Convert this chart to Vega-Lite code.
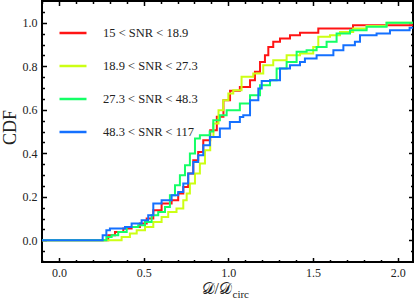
{
"$schema": "https://vega.github.io/schema/vega-lite/v6.json",
"width": 371, "height": 261, "autosize": "none",
"padding": {"left": 42, "top": 1, "right": 2, "bottom": 42},
"background": "white",
"config": {
 "view": {"stroke": "black", "strokeWidth": 2},
 "axis": {"domain": false, "grid": false, "tickColor": "black", "tickWidth": 1.5, "labelFont": "Liberation Serif, serif", "labelFontSize": 12, "labelColor": "#222", "titleFont": "Liberation Serif, serif", "titleFontWeight": "normal", "titleColor": "#222"},
 "legend": {"labelFont": "Liberation Serif, serif", "labelFontSize": 12.5, "labelColor": "#222"}
},
"data": {"values": [
{"s":"15 < SNR < 18.9","x":-0.1,"y":0},{"s":"15 < SNR < 18.9","x":0.291,"y":0.023},{"s":"15 < SNR < 18.9","x":0.331,"y":0.038},{"s":"15 < SNR < 18.9","x":0.38,"y":0.054},{"s":"15 < SNR < 18.9","x":0.429,"y":0.061},{"s":"15 < SNR < 18.9","x":0.478,"y":0.077},{"s":"15 < SNR < 18.9","x":0.518,"y":0.1},{"s":"15 < SNR < 18.9","x":0.557,"y":0.138},{"s":"15 < SNR < 18.9","x":0.606,"y":0.169},{"s":"15 < SNR < 18.9","x":0.665,"y":0.184},{"s":"15 < SNR < 18.9","x":0.704,"y":0.215},{"s":"15 < SNR < 18.9","x":0.734,"y":0.245},{"s":"15 < SNR < 18.9","x":0.763,"y":0.307},{"s":"15 < SNR < 18.9","x":0.793,"y":0.368},{"s":"15 < SNR < 18.9","x":0.822,"y":0.406},{"s":"15 < SNR < 18.9","x":0.852,"y":0.46},{"s":"15 < SNR < 18.9","x":0.893,"y":0.506},{"s":"15 < SNR < 18.9","x":0.932,"y":0.568},{"s":"15 < SNR < 18.9","x":0.971,"y":0.644},{"s":"15 < SNR < 18.9","x":1.01,"y":0.687},{"s":"15 < SNR < 18.9","x":1.068,"y":0.705},{"s":"15 < SNR < 18.9","x":1.128,"y":0.736},{"s":"15 < SNR < 18.9","x":1.157,"y":0.775},{"s":"15 < SNR < 18.9","x":1.187,"y":0.82},{"s":"15 < SNR < 18.9","x":1.216,"y":0.851},{"s":"15 < SNR < 18.9","x":1.236,"y":0.889},{"s":"15 < SNR < 18.9","x":1.265,"y":0.913},{"s":"15 < SNR < 18.9","x":1.305,"y":0.928},{"s":"15 < SNR < 18.9","x":1.364,"y":0.943},{"s":"15 < SNR < 18.9","x":1.423,"y":0.954},{"s":"15 < SNR < 18.9","x":1.531,"y":0.974},{"s":"15 < SNR < 18.9","x":1.736,"y":0.989},{"s":"15 < SNR < 18.9","x":2.09,"y":0.989},
{"s":"18.9 < SNR < 27.3","x":-0.1,"y":0},{"s":"18.9 < SNR < 27.3","x":0.37,"y":0.015},{"s":"18.9 < SNR < 27.3","x":0.419,"y":0.031},{"s":"18.9 < SNR < 27.3","x":0.459,"y":0.046},{"s":"18.9 < SNR < 27.3","x":0.508,"y":0.061},{"s":"18.9 < SNR < 27.3","x":0.557,"y":0.084},{"s":"18.9 < SNR < 27.3","x":0.606,"y":0.107},{"s":"18.9 < SNR < 27.3","x":0.645,"y":0.13},{"s":"18.9 < SNR < 27.3","x":0.694,"y":0.146},{"s":"18.9 < SNR < 27.3","x":0.734,"y":0.184},{"s":"18.9 < SNR < 27.3","x":0.754,"y":0.215},{"s":"18.9 < SNR < 27.3","x":0.773,"y":0.261},{"s":"18.9 < SNR < 27.3","x":0.803,"y":0.307},{"s":"18.9 < SNR < 27.3","x":0.832,"y":0.353},{"s":"18.9 < SNR < 27.3","x":0.862,"y":0.414},{"s":"18.9 < SNR < 27.3","x":0.893,"y":0.475},{"s":"18.9 < SNR < 27.3","x":0.912,"y":0.537},{"s":"18.9 < SNR < 27.3","x":0.942,"y":0.598},{"s":"18.9 < SNR < 27.3","x":0.97,"y":0.644},{"s":"18.9 < SNR < 27.3","x":1.0,"y":0.675},{"s":"18.9 < SNR < 27.3","x":1.029,"y":0.69},{"s":"18.9 < SNR < 27.3","x":1.078,"y":0.752},{"s":"18.9 < SNR < 27.3","x":1.147,"y":0.767},{"s":"18.9 < SNR < 27.3","x":1.206,"y":0.805},{"s":"18.9 < SNR < 27.3","x":1.265,"y":0.828},{"s":"18.9 < SNR < 27.3","x":1.344,"y":0.851},{"s":"18.9 < SNR < 27.3","x":1.423,"y":0.859},{"s":"18.9 < SNR < 27.3","x":1.501,"y":0.889},{"s":"18.9 < SNR < 27.3","x":1.531,"y":0.936},{"s":"18.9 < SNR < 27.3","x":1.6,"y":0.943},{"s":"18.9 < SNR < 27.3","x":1.659,"y":0.958},{"s":"18.9 < SNR < 27.3","x":1.737,"y":0.974},{"s":"18.9 < SNR < 27.3","x":1.816,"y":0.985},{"s":"18.9 < SNR < 27.3","x":1.934,"y":1.0},{"s":"18.9 < SNR < 27.3","x":2.09,"y":1.0},
{"s":"27.3 < SNR < 48.3","x":-0.1,"y":0},{"s":"27.3 < SNR < 48.3","x":0.28,"y":0.015},{"s":"27.3 < SNR < 48.3","x":0.311,"y":0.023},{"s":"27.3 < SNR < 48.3","x":0.35,"y":0.038},{"s":"27.3 < SNR < 48.3","x":0.4,"y":0.061},{"s":"27.3 < SNR < 48.3","x":0.468,"y":0.069},{"s":"27.3 < SNR < 48.3","x":0.508,"y":0.084},{"s":"27.3 < SNR < 48.3","x":0.547,"y":0.115},{"s":"27.3 < SNR < 48.3","x":0.586,"y":0.13},{"s":"27.3 < SNR < 48.3","x":0.626,"y":0.153},{"s":"27.3 < SNR < 48.3","x":0.655,"y":0.207},{"s":"27.3 < SNR < 48.3","x":0.685,"y":0.253},{"s":"27.3 < SNR < 48.3","x":0.714,"y":0.299},{"s":"27.3 < SNR < 48.3","x":0.744,"y":0.345},{"s":"27.3 < SNR < 48.3","x":0.773,"y":0.399},{"s":"27.3 < SNR < 48.3","x":0.803,"y":0.468},{"s":"27.3 < SNR < 48.3","x":0.832,"y":0.483},{"s":"27.3 < SNR < 48.3","x":0.89,"y":0.5},{"s":"27.3 < SNR < 48.3","x":0.911,"y":0.552},{"s":"27.3 < SNR < 48.3","x":0.95,"y":0.575},{"s":"27.3 < SNR < 48.3","x":0.99,"y":0.598},{"s":"27.3 < SNR < 48.3","x":1.068,"y":0.629},{"s":"27.3 < SNR < 48.3","x":1.128,"y":0.667},{"s":"27.3 < SNR < 48.3","x":1.187,"y":0.713},{"s":"27.3 < SNR < 48.3","x":1.246,"y":0.736},{"s":"27.3 < SNR < 48.3","x":1.285,"y":0.79},{"s":"27.3 < SNR < 48.3","x":1.344,"y":0.82},{"s":"27.3 < SNR < 48.3","x":1.403,"y":0.867},{"s":"27.3 < SNR < 48.3","x":1.462,"y":0.874},{"s":"27.3 < SNR < 48.3","x":1.521,"y":0.889},{"s":"27.3 < SNR < 48.3","x":1.58,"y":0.913},{"s":"27.3 < SNR < 48.3","x":1.639,"y":0.951},{"s":"27.3 < SNR < 48.3","x":1.718,"y":0.966},{"s":"27.3 < SNR < 48.3","x":1.816,"y":0.982},{"s":"27.3 < SNR < 48.3","x":1.934,"y":1.0},{"s":"27.3 < SNR < 48.3","x":2.09,"y":1.0},
{"s":"48.3 < SNR < 117","x":-0.1,"y":0},{"s":"48.3 < SNR < 117","x":0.258,"y":0.023},{"s":"48.3 < SNR < 117","x":0.28,"y":0.046},{"s":"48.3 < SNR < 117","x":0.301,"y":0.054},{"s":"48.3 < SNR < 117","x":0.39,"y":0.061},{"s":"48.3 < SNR < 117","x":0.429,"y":0.077},{"s":"48.3 < SNR < 117","x":0.488,"y":0.092},{"s":"48.3 < SNR < 117","x":0.527,"y":0.115},{"s":"48.3 < SNR < 117","x":0.557,"y":0.169},{"s":"48.3 < SNR < 117","x":0.606,"y":0.184},{"s":"48.3 < SNR < 117","x":0.665,"y":0.207},{"s":"48.3 < SNR < 117","x":0.704,"y":0.222},{"s":"48.3 < SNR < 117","x":0.734,"y":0.261},{"s":"48.3 < SNR < 117","x":0.763,"y":0.307},{"s":"48.3 < SNR < 117","x":0.793,"y":0.36},{"s":"48.3 < SNR < 117","x":0.822,"y":0.391},{"s":"48.3 < SNR < 117","x":0.852,"y":0.437},{"s":"48.3 < SNR < 117","x":0.891,"y":0.475},{"s":"48.3 < SNR < 117","x":0.95,"y":0.514},{"s":"48.3 < SNR < 117","x":1.009,"y":0.544},{"s":"48.3 < SNR < 117","x":1.068,"y":0.567},{"s":"48.3 < SNR < 117","x":1.088,"y":0.575},{"s":"48.3 < SNR < 117","x":1.128,"y":0.644},{"s":"48.3 < SNR < 117","x":1.177,"y":0.698},{"s":"48.3 < SNR < 117","x":1.197,"y":0.732},{"s":"48.3 < SNR < 117","x":1.246,"y":0.736},{"s":"48.3 < SNR < 117","x":1.305,"y":0.79},{"s":"48.3 < SNR < 117","x":1.364,"y":0.805},{"s":"48.3 < SNR < 117","x":1.423,"y":0.82},{"s":"48.3 < SNR < 117","x":1.452,"y":0.836},{"s":"48.3 < SNR < 117","x":1.521,"y":0.851},{"s":"48.3 < SNR < 117","x":1.62,"y":0.874},{"s":"48.3 < SNR < 117","x":1.679,"y":0.897},{"s":"48.3 < SNR < 117","x":1.747,"y":0.913},{"s":"48.3 < SNR < 117","x":1.777,"y":0.943},{"s":"48.3 < SNR < 117","x":1.875,"y":0.951},{"s":"48.3 < SNR < 117","x":1.954,"y":0.966},{"s":"48.3 < SNR < 117","x":2.07,"y":0.977},{"s":"48.3 < SNR < 117","x":2.09,"y":0.977}
]},
"resolve": {"axis": {"x": "independent", "y": "independent"}},
"layer": [
 {
  "mark": {"type": "line", "interpolate": "step-after", "strokeWidth": 2, "clip": true},
  "encoding": {
   "x": {"field": "x", "type": "quantitative", "scale": {"domain": [-0.1, 2.09], "nice": false, "zero": false},
     "axis": {"orient": "bottom", "values": [0, 0.5, 1, 1.5, 2], "format": ".1f", "ticks": false, "labelPadding": 5,
       "title": "𝒟/𝒟", "titleFontSize": 16, "titleAlign": "left", "titleBaseline": "alphabetic", "titleX": 159, "titleY": 31}},
   "y": {"field": "y", "type": "quantitative", "scale": {"domain": [-0.1, 1.1], "nice": false, "zero": false},
     "axis": {"orient": "left", "values": [0, 0.2, 0.4, 0.6, 0.8, 1.0], "format": ".1f", "ticks": false, "labelPadding": 5,
       "title": "CDF", "titleFontSize": 18, "titleAngle": 270, "titleAlign": "center", "titleBaseline": "middle", "titleX": -32, "titleY": 126}},
   "color": {"field": "s", "type": "nominal",
     "scale": {"domain": ["15 < SNR < 18.9", "18.9 < SNR < 27.3", "27.3 < SNR < 48.3", "48.3 < SNR < 117"], "range": ["#FF1414", "#CCFF14", "#14FF66", "#1470FF"]},
     "legend": {"orient": "none", "legendX": 16, "legendY": 17, "title": null, "symbolType": "stroke", "symbolSize": 729, "symbolStrokeWidth": 2.5, "labelOffset": 15, "rowPadding": 11}}
  }
 },
 {
  "mark": {"type": "point", "opacity": 0},
  "encoding": {
   "x": {"field": "x", "type": "quantitative", "axis": {"orient": "bottom", "values": [0, 0.5, 1, 1.5, 2], "labels": false, "tickSize": -4.5,
     "title": "circ", "titleFontSize": 11, "titleAlign": "left", "titleBaseline": "alphabetic", "titleX": 190, "titleY": 35}},
   "y": {"field": "y", "type": "quantitative", "axis": {"orient": "left", "values": [0, 0.2, 0.4, 0.6, 0.8, 1.0], "labels": false, "tickSize": -4.5, "title": null}}
  }
 },
 {
  "mark": {"type": "point", "opacity": 0},
  "encoding": {
   "x": {"field": "x", "type": "quantitative", "axis": {"orient": "bottom", "values": [-0.1, 0.1, 0.2, 0.3, 0.4, 0.6, 0.7, 0.8, 0.9, 1.1, 1.2, 1.3, 1.4, 1.6, 1.7, 1.8, 1.9], "labels": false, "tickSize": -2.5, "title": null}},
   "y": {"field": "y", "type": "quantitative", "axis": {"orient": "left", "values": [-0.05, 0.05, 0.1, 0.15, 0.25, 0.3, 0.35, 0.45, 0.5, 0.55, 0.65, 0.7, 0.75, 0.85, 0.9, 0.95, 1.05], "labels": false, "tickSize": -2.5, "title": null}}
  }
 },
 {
  "mark": {"type": "point", "opacity": 0},
  "encoding": {
   "x": {"field": "x", "type": "quantitative", "axis": {"orient": "top", "values": [0, 0.5, 1, 1.5, 2], "labels": false, "tickSize": -4.5, "title": null}},
   "y": {"field": "y", "type": "quantitative", "axis": {"orient": "right", "values": [0, 0.2, 0.4, 0.6, 0.8, 1.0], "labels": false, "tickSize": -4.5, "title": null}}
  }
 },
 {
  "mark": {"type": "point", "opacity": 0},
  "encoding": {
   "x": {"field": "x", "type": "quantitative", "axis": {"orient": "top", "values": [-0.1, 0.1, 0.2, 0.3, 0.4, 0.6, 0.7, 0.8, 0.9, 1.1, 1.2, 1.3, 1.4, 1.6, 1.7, 1.8, 1.9], "labels": false, "tickSize": -2.5, "title": null}},
   "y": {"field": "y", "type": "quantitative", "axis": {"orient": "right", "values": [-0.05, 0.05, 0.1, 0.15, 0.25, 0.3, 0.35, 0.45, 0.5, 0.55, 0.65, 0.7, 0.75, 0.85, 0.9, 0.95, 1.05], "labels": false, "tickSize": -2.5, "title": null}}
  }
 }
]
}
